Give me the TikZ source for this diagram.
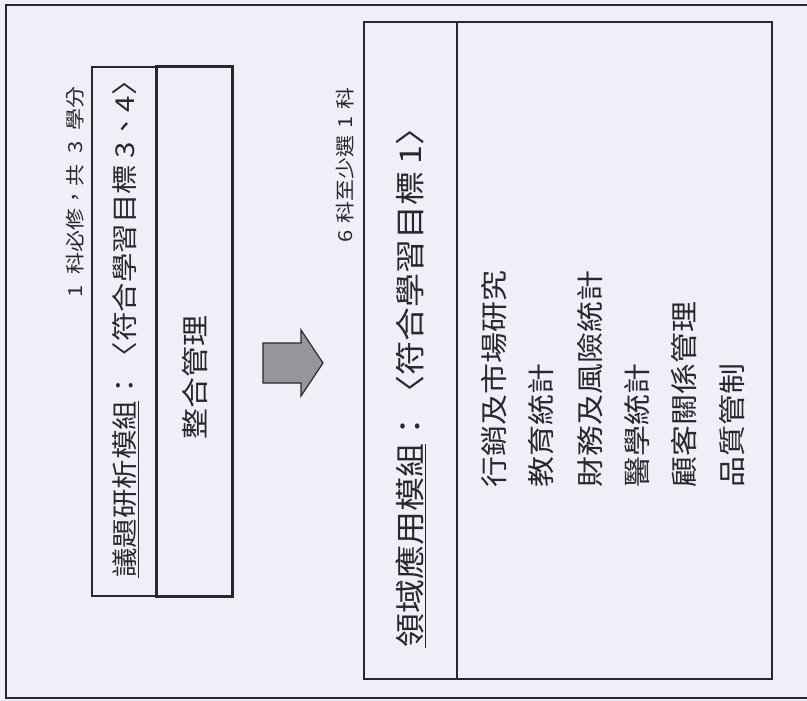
\documentclass[tikz,border=0pt]{standalone}
\usepackage{fontspec}
\usepackage{graphicx}
\newfontfamily\cjk{Noto Sans CJK TC}
\definecolor{paper}{RGB}{238,239,247}
\definecolor{ink}{RGB}{40,40,44}
\definecolor{arrowgray}{RGB}{150,150,154}
\tikzset{
  vtext/.style={rotate=90, inner sep=0pt, text=ink},
  thinbox/.style={draw=ink, line width=1.4pt},
  thickbox/.style={draw=ink, line width=3pt},
  framebox/.style={draw=ink, line width=1.8pt},
}
\newcommand{\vt}[2]{{\cjk\fontsize{#1}{#1}\selectfont\scalebox{1}[0.88]{#2}}}
\begin{document}
\begin{tikzpicture}[x=1pt,y=-1pt]
\fill[paper] (0,0) rectangle (807,701);
\useasboundingbox (0,0) rectangle (807,701);
% outer frame (right side runs off the page)
\draw[framebox] (815,5) -- (6,5) -- (6,698) -- (815,698);
% left module box
\draw[thinbox] (92,67) rectangle (156,596);
\draw[thickbox] (156,67) rectangle (232,596);
% right module box
\draw[thinbox] (364,22) rectangle (772,679);
\draw[thinbox] (457,22) -- (457,679);
% block arrow
\draw[draw=ink, line width=1.2pt, fill=arrowgray, line join=miter]
  (263,343) -- (301,343) -- (301,330) -- (323,363) -- (301,396) -- (301,383) -- (263,383) -- cycle;
% notes
\node[vtext] (note1) at (75,192) {\vt{22}{1\hspace{0.5em}科必修，共\hspace{0.5em}3\hspace{0.5em}學分}};
\node[vtext] (note2) at (345,165) {\vt{22}{6\hspace{0.3em}科至少選\hspace{0.3em}1\hspace{0.3em}科}};
% titles
\node[vtext, anchor=west] (title1) at (126,578) {\vt{29.5}{\underline{議題研析模組}：〈符合學習目標 3、4〉}};
\node[vtext, anchor=west] (core) at (195,440) {\vt{31}{整合管理}};
\node[vtext, anchor=west] (title2) at (411,648) {\vt{34}{\underline{領域應用模組}：〈符合學習目標 1〉}};
% course list
\node[vtext, anchor=west] (c1) at (494,488) {\vt{31}{行銷及市場研究}};
\node[vtext, anchor=west] (c2) at (541,488) {\vt{31}{教育統計}};
\node[vtext, anchor=west] (c3) at (590,488) {\vt{31}{財務及風險統計}};
\node[vtext, anchor=west] (c4) at (637,488) {\vt{31}{醫學統計}};
\node[vtext, anchor=west] (c5) at (684,488) {\vt{31}{顧客關係管理}};
\node[vtext, anchor=west] (c6) at (732,488) {\vt{31}{品質管制}};
\end{tikzpicture}
\end{document}
